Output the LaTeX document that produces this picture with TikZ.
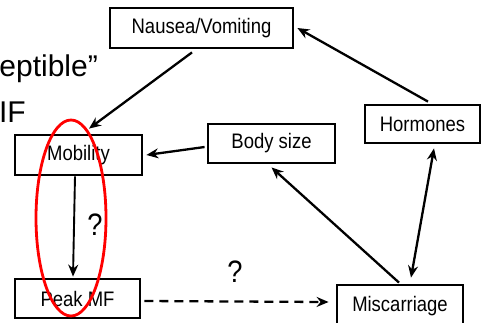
\documentclass[tikz,border=0pt]{standalone}
\usepackage{fontspec}
\setmainfont{Liberation Sans}
\newfontfamily\boxfont[FakeStretch=0.88]{Liberation Sans}
\usetikzlibrary{arrows.meta,calc}
\begin{document}
\begin{tikzpicture}[x=1pt,y=-1pt,
  box/.style={draw=black,line width=2.8pt,inner sep=0pt,font=\boxfont\fontsize{21}{24}\selectfont},
  arr/.style={line width=2.3pt,-{Stealth[length=12pt,width=10pt,inset=4pt]}},
  qmark/.style={inner sep=0pt,font=\boxfont\fontsize{31}{34}\selectfont},
  big/.style={inner sep=0pt,font=\fontsize{30}{34}\selectfont}]
\useasboundingbox (0,0) rectangle (482,322);
\clip (0,0) rectangle (482,322);
\fill[white] (0,0) rectangle (482,322);
% boxes
\node[box,minimum width=183pt,minimum height=40pt] (nausea) at (201.5,28) {Nausea/Vomiting};
\node[box,minimum width=115pt,minimum height=38pt] (horm) at (422.5,124) {Hormones};
\node[box,minimum width=127pt,minimum height=39pt] (body) at (271.5,143.5) {Body size};
\node[box,minimum width=127pt,minimum height=40pt] (mob) at (78.5,155) {Mobility};
\node[box,minimum width=125pt,minimum height=39pt] (peak) at (77.5,298.5) {Peak MF};
\node[box,minimum width=126pt,minimum height=40pt,text depth=0pt] (misc) at (400,305) {\raisebox{3pt}{Miscarriage}};
% cut-off slide text
\node[big,anchor=base east] (t1) at (98,76) {eptible”};
\node[big,anchor=base east] (t2) at (26,122) {IF};
% connectors
\draw[arr] ($(nausea.south)+(-9.5,3)$) -- ($(mob.north)+(10.5,-5)$);
\draw[arr] ($(horm.north)+(5.5,-2)$) -- ($(nausea.east)+(3,0)$);
\draw[arr] ($(body.west)+(-2,3.5)$) -- ($(mob.east)+(3,0)$);
\draw[arr] ($(misc.north)+(-1,-1)$) -- ($(body.south)+(0,3)$);
\draw[line width=2.3pt,{Stealth[length=12pt,width=10pt,inset=4pt]}-{Stealth[length=12pt,width=10pt,inset=4pt]}] ($(horm.south)+(11.5,4)$) -- ($(misc.north)+(11,-6)$);
\draw[arr,line width=1.9pt] ($(mob.south)+(-3.5,0)$) -- ($(peak.north)+(-4.5,-1)$);
\draw[arr,dash pattern=on 9pt off 6pt] ($(peak.east)+(3,2.5)$) -- ($(misc.west)+(-7,-3)$);
\node[qmark] (q1) at (95,225) {?};
\node[qmark] (q2) at (235,272) {?};
% red ellipse
\draw[red,line width=2.8pt] (71,218) ellipse [x radius=35,y radius=98];
\end{tikzpicture}
\end{document}
